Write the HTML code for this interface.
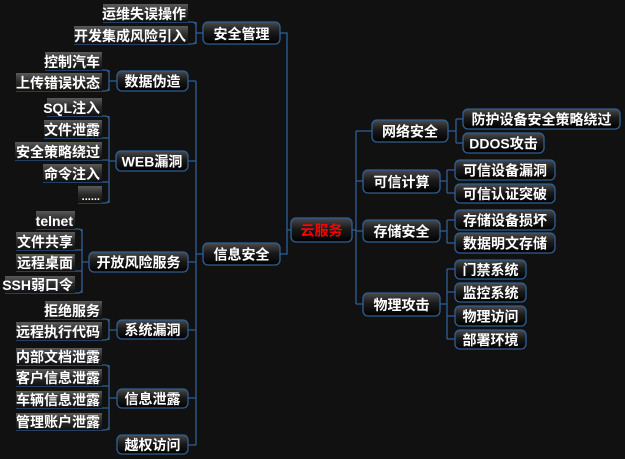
<!DOCTYPE html>
<html><head><meta charset="utf-8"><style>
html,body{margin:0;padding:0;background:#111;}
svg{display:block}
text{font-family:"Liberation Sans","Noto Sans CJK SC",sans-serif;font-weight:bold;font-size:14px;fill:#fff;}
.b{fill:url(#bg);stroke:#2f5f94;stroke-width:1.3}
.l{fill:url(#lg)}
.c{fill:none;stroke:#2f5f94;stroke-width:1.3}
</style></head><body>
<svg width="625" height="459" viewBox="0 0 625 459" xmlns="http://www.w3.org/2000/svg">
<defs>
<linearGradient id="bg" x1="0" y1="0" x2="0" y2="1"><stop offset="0" stop-color="#4a4a4a"/><stop offset="0.45" stop-color="#1a1a1a"/><stop offset="1" stop-color="#000"/></linearGradient>
<linearGradient id="lg" x1="0" y1="0" x2="0" y2="1"><stop offset="0" stop-color="#5a5a5a"/><stop offset="0.5" stop-color="#2a2a2a"/><stop offset="1" stop-color="#111"/></linearGradient>
</defs>
<rect width="625" height="459" fill="#111"/>
<!-- spines -->
<path class="c" d="M280 33 H287 V254 H280 M287 230 H291"/>
<path class="c" d="M196 81 V445 M188 81 H196 M188 161 H196 M188 262 H196 M188 330 H196 M188 398 H196 M188 445 H196 M196 254 H203"/>
<path class="c" d="M352 230 H356 M356 131 V304 M356 131 H372 M356 181 H363 M356 231 H363 M356 304 H363"/>
<!-- right brackets -->
<path class="c" d="M448 131 H456 M456 119 V143 M456 119 H463 M456 143 H463"/>
<path class="c" d="M440 181 H447 M447 170 V193 M447 170 H455 M447 193 H455"/>
<path class="c" d="M440 231 H447 M447 220 V243 M447 220 H455 M447 243 H455"/>
<path class="c" d="M440 304 H447 M447 269 V339 M447 269 H455 M447 292 H455 M447 316 H455 M447 339 H455"/>
<!-- left brackets -->
<path class="c" d="M203 33 H196 M196 22 V44 M103 22 H192 Q196 22 196 26 M74 44 H192 Q196 44 196 40"/>
<path class="c" d="M117 81 H109 M109 70 V91 M45 70 H105 Q109 70 109 74 M16 91 H105 Q109 91 109 87"/>
<path class="c" d="M116 161 H109 M109 116 V203 M47 116 H105 Q109 116 109 120 M44 138 H109 M15 160 H109 M43 182 H109 M78 203 H105 Q109 203 109 199"/>
<path class="c" d="M89 262 H82 M82 229 V293 M36 229 H78 Q82 229 82 233 M16 250 H82 M16 271 H82 M5 293 H78 Q82 293 82 289"/>
<path class="c" d="M117 330 H109 M109 319 V340 M45 319 H105 Q109 319 109 323 M16 340 H105 Q109 340 109 336"/>
<path class="c" d="M117 398 H109 M109 365 V430 M16 365 H105 Q109 365 109 369 M16 386 H109 M16 408 H109 M16 430 H105 Q109 430 109 426"/>
<!-- left leaves -->
<g>
<rect class="l" x="103" y="4" width="85" height="18"/><text x="186" y="19" text-anchor="end">运维失误操作</text>
<rect class="l" x="74" y="26" width="114" height="18"/><text x="186" y="41" text-anchor="end">开发集成风险引入</text>
<rect class="l" x="45" y="52" width="57" height="18"/><text x="100" y="67" text-anchor="end">控制汽车</text>
<rect class="l" x="16" y="73" width="86" height="18"/><text x="100" y="88" text-anchor="end">上传错误状态</text>
<rect class="l" x="47" y="98" width="55" height="18"/><text x="100" y="113" text-anchor="end">SQL注入</text>
<rect class="l" x="44" y="120" width="58" height="18"/><text x="100" y="135" text-anchor="end">文件泄露</text>
<rect class="l" x="15" y="142" width="87" height="18"/><text x="100" y="157" text-anchor="end">安全策略绕过</text>
<rect class="l" x="43" y="164" width="59" height="18"/><text x="100" y="179" text-anchor="end">命令注入</text>
<rect class="l" x="78" y="186" width="24" height="17"/><text x="100" y="200" text-anchor="end" style="font-size:11px">......</text>
<rect class="l" x="36" y="211" width="39" height="18"/><text x="73" y="226" text-anchor="end">telnet</text>
<rect class="l" x="16" y="232" width="59" height="18"/><text x="73" y="247" text-anchor="end">文件共享</text>
<rect class="l" x="16" y="254" width="59" height="17"/><text x="73" y="268" text-anchor="end">远程桌面</text>
<rect class="l" x="5" y="276" width="70" height="17"/><text x="73" y="290" text-anchor="end">SSH弱口令</text>
<rect class="l" x="45" y="301" width="57" height="18"/><text x="100" y="316" text-anchor="end">拒绝服务</text>
<rect class="l" x="16" y="322" width="86" height="18"/><text x="100" y="337" text-anchor="end">远程执行代码</text>
<rect class="l" x="16" y="348" width="86" height="17"/><text x="100" y="362" text-anchor="end">内部文档泄露</text>
<rect class="l" x="16" y="369" width="86" height="17"/><text x="100" y="383" text-anchor="end">客户信息泄露</text>
<rect class="l" x="16" y="391" width="86" height="17"/><text x="100" y="405" text-anchor="end">车辆信息泄露</text>
<rect class="l" x="16" y="413" width="86" height="17"/><text x="100" y="427" text-anchor="end">管理账户泄露</text>
</g>
<!-- boxed nodes -->
<g text-anchor="middle">
<rect class="b" x="203" y="22" width="77" height="22" rx="5"/><text x="241.5" y="39">安全管理</text>
<rect class="b" x="117" y="71" width="71" height="20" rx="5"/><text x="152.5" y="86.5">数据伪造</text>
<rect class="b" x="116" y="151" width="72" height="20" rx="5"/><text x="152" y="166.5">WEB漏洞</text>
<rect class="b" x="89" y="252" width="99" height="20" rx="5"/><text x="138.5" y="267.5">开放风险服务</text>
<rect class="b" x="203" y="243" width="77" height="22" rx="5"/><text x="241.5" y="259.5">信息安全</text>
<rect class="b" x="117" y="320" width="71" height="19" rx="5"/><text x="152.5" y="335">系统漏洞</text>
<rect class="b" x="117" y="389" width="71" height="19" rx="5"/><text x="152.5" y="404">信息泄露</text>
<rect class="b" x="117" y="435" width="71" height="19" rx="5"/><text x="152.5" y="450">越权访问</text>
<rect class="b" x="291" y="218" width="61" height="24" rx="5"/><text x="321.5" y="235.5" style="fill:#f00">云服务</text>
<rect class="b" x="372" y="120" width="76" height="22" rx="5"/><text x="410" y="136.5">网络安全</text>
<rect class="b" x="463" y="109" width="157" height="20" rx="5"/><text x="541.5" y="124.5">防护设备安全策略绕过</text>
<rect class="b" x="463" y="133" width="81" height="20" rx="5"/><text x="503.5" y="148.5">DDOS攻击</text>
<rect class="b" x="363" y="170" width="77" height="23" rx="5"/><text x="401.5" y="187">可信计算</text>
<rect class="b" x="455" y="160" width="100" height="20" rx="5"/><text x="505" y="175.5">可信设备漏洞</text>
<rect class="b" x="455" y="184" width="100" height="19" rx="5"/><text x="505" y="199">可信认证突破</text>
<rect class="b" x="363" y="220" width="77" height="22" rx="5"/><text x="401.5" y="236.5">存储安全</text>
<rect class="b" x="455" y="210" width="100" height="20" rx="5"/><text x="505" y="225.5">存储设备损坏</text>
<rect class="b" x="455" y="233" width="100" height="20" rx="5"/><text x="505" y="248.5">数据明文存储</text>
<rect class="b" x="363" y="293" width="77" height="23" rx="5"/><text x="401.5" y="310">物理攻击</text>
<rect class="b" x="455" y="260" width="71" height="19" rx="5"/><text x="490.5" y="275">门禁系统</text>
<rect class="b" x="455" y="283" width="71" height="19" rx="5"/><text x="490.5" y="298">监控系统</text>
<rect class="b" x="455" y="306" width="71" height="20" rx="5"/><text x="490.5" y="321.5">物理访问</text>
<rect class="b" x="455" y="330" width="71" height="19" rx="5"/><text x="490.5" y="345">部署环境</text>
</g>
</svg>
</body></html>
